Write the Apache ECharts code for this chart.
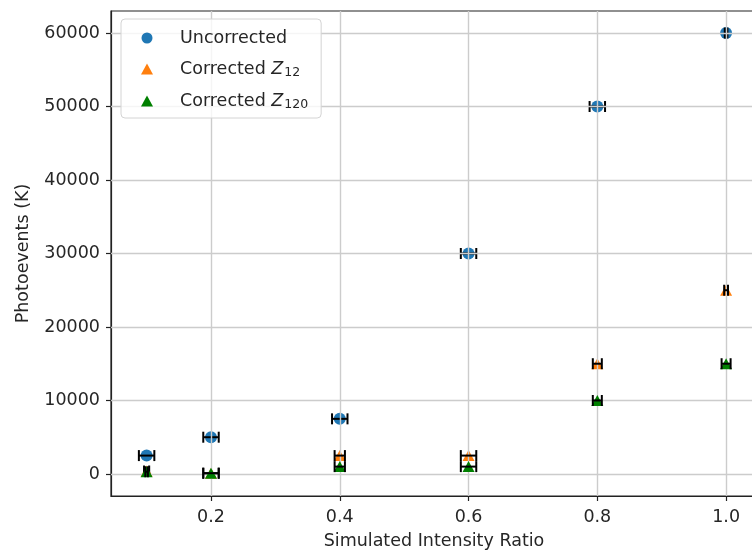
<!DOCTYPE html>
<html>
<head>
<meta charset="utf-8">
<script src="https://cdn.jsdelivr.net/npm/echarts@6/dist/echarts.min.js"></script>
<style>
  html, body { margin: 0; padding: 0; background: #ffffff; }
  #chart { width: 752px; height: 554px; }
</style>
</head>
<body>
<div id="chart"></div>
<script>
// Simulated intensity ratios (x) shared by all series
const ratios = [0.1, 0.2, 0.4, 0.6, 0.8, 1.0];

// Photoevent counts per series
const uncorrected = [2500, 5000, 7500, 30000, 50000, 60000];
const correctedZ12 = [400, 100, 2500, 2500, 15000, 25000];
const correctedZ120 = [300, 100, 1000, 1000, 10000, 15000];

// Horizontal error half-widths (in ratio units)
const uncorrectedXErr = [0.012, 0.012, 0.012, 0.012, 0.012, 0.002];
const correctedZ12XErr = [0.004, 0.012, 0.008, 0.012, 0.007, 0.003];
const correctedZ120XErr = [0.002, 0.012, 0.008, 0.012, 0.007, 0.007];

// Tick positions
const xTicks = [0.2, 0.4, 0.6, 0.8, 1.0];
const yTicks = [0, 10000, 20000, 30000, 40000, 50000, 60000];

const FONT = 'DejaVu Sans';
const TEXT = '#262626';
const FS = 17.5;

function points(xs, ys) {
  return xs.map((x, i) => [x, ys[i]]);
}
function errPoints(xs, ys, es) {
  return xs.map((x, i) => [x, ys[i], es[i]]);
}

// Draws |--| error bars around each point
function renderXErr(params, api) {
  const x = api.value(0), y = api.value(1), e = api.value(2);
  const a = api.coord([x - e, y]);
  const b = api.coord([x + e, y]);
  const cap = 5.5;
  const style = { stroke: '#000000', lineWidth: 2 };
  return {
    type: 'group',
    children: [
      { type: 'line', shape: { x1: a[0], y1: a[1], x2: b[0], y2: b[1] }, style },
      { type: 'line', shape: { x1: a[0], y1: a[1] - cap, x2: a[0], y2: a[1] + cap }, style },
      { type: 'line', shape: { x1: b[0], y1: b[1] - cap, x2: b[0], y2: b[1] + cap }, style }
    ]
  };
}

const series = [
  {
    // grid lines at the tick positions
    name: 'grid',
    type: 'scatter',
    data: [],
    z: 0,
    silent: true,
    markLine: {
      silent: true,
      symbol: 'none',
      animation: false,
      label: { show: false },
      lineStyle: { color: '#cccccc', width: 1.4, type: 'solid' },
      data: xTicks.map(v => ({ xAxis: v })).concat(yTicks.map(v => ({ yAxis: v })))
    }
  },
  {
    name: 'Uncorrected', type: 'scatter', z: 2,
    symbol: 'circle', symbolSize: 12,
    itemStyle: { color: '#1f77b4', opacity: 1 },
    data: points(ratios, uncorrected)
  },
  {
    name: 'Uncorrected xerr', type: 'custom', z: 3,
    renderItem: renderXErr,
    data: errPoints(ratios, uncorrected, uncorrectedXErr)
  },
  {
    name: 'Corrected Z12', type: 'scatter', z: 4,
    symbol: 'triangle', symbolSize: [12, 11],
    itemStyle: { color: '#ff7f0e', opacity: 1 },
    data: points(ratios, correctedZ12)
  },
  {
    name: 'Corrected Z12 xerr', type: 'custom', z: 5,
    renderItem: renderXErr,
    data: errPoints(ratios, correctedZ12, correctedZ12XErr)
  },
  {
    name: 'Corrected Z120', type: 'scatter', z: 6,
    symbol: 'triangle', symbolSize: [12, 11],
    itemStyle: { color: '#008000', opacity: 1 },
    data: points(ratios, correctedZ120)
  },
  {
    name: 'Corrected Z120 xerr', type: 'custom', z: 7,
    renderItem: renderXErr,
    data: errPoints(ratios, correctedZ120, correctedZ120XErr)
  }
];

const chart = echarts.init(document.getElementById('chart'), null, { renderer: 'canvas' });

chart.setOption({
  animation: false,
  backgroundColor: '#ffffff',
  textStyle: { fontFamily: FONT },
  grid: {
    left: 111, top: 11, width: 646, height: 485,
    show: true, borderColor: '#222222', borderWidth: 1.2,
    containLabel: false,
    outerBoundsMode: 'none'
  },
  legend: {
    data: ['Uncorrected', 'Corrected Z12', 'Corrected Z120'],
    orient: 'vertical',
    left: 121, top: 19,
    z: 50,
    padding: [10, 13, 7, 20],
    itemWidth: 12, itemHeight: 11,
    itemGap: 11,
    backgroundColor: 'rgba(255,255,255,0.8)',
    borderColor: '#d4d4d4', borderWidth: 1, borderRadius: 4,
    formatter: function (name) {
      if (name === 'Uncorrected') return '{n|Uncorrected}';
      const sub = name.replace('Corrected Z', '');
      return '{n|Corrected }{z|Z}{s|' + sub + '}';
    },
    textStyle: {
      fontFamily: FONT, fontSize: FS, color: TEXT,
      rich: {
        n: { fontFamily: FONT, fontSize: FS, color: TEXT, lineHeight: 20, padding: [0, 0, 0, 22] },
        z: { fontFamily: FONT, fontSize: FS, color: TEXT, fontStyle: 'italic', lineHeight: 20 },
        s: { fontFamily: FONT, fontSize: 12.5, color: TEXT, lineHeight: 20, verticalAlign: 'bottom', padding: [8, 0, 0, 1] }
      }
    }
  },
  xAxis: {
    type: 'value',
    min: 0.0447, max: 1.048,
    name: 'Simulated Intensity Ratio',
    nameLocation: 'middle',
    nameGap: 36,
    nameTextStyle: { fontFamily: FONT, fontSize: FS, color: TEXT },
    axisLine: { show: true, onZero: false, lineStyle: { color: '#222222', width: 1.2 } },
    axisTick: { show: true, length: 5, customValues: xTicks, lineStyle: { color: '#222222', width: 1.2 } },
    axisLabel: {
      show: true, customValues: xTicks, margin: 12,
      fontFamily: FONT, fontSize: FS, color: TEXT,
      formatter: v => v.toFixed(1)
    },
    splitLine: { show: false }
  },
  yAxis: {
    type: 'value',
    min: -3000, max: 63000,
    name: 'Photoevents (K)',
    nameLocation: 'middle',
    nameGap: 79,
    nameRotate: 90,
    nameTextStyle: { fontFamily: FONT, fontSize: FS, color: TEXT },
    axisLine: { show: true, onZero: false, lineStyle: { color: '#222222', width: 1.2 } },
    axisTick: { show: true, length: 5, customValues: yTicks, lineStyle: { color: '#222222', width: 1.2 } },
    axisLabel: {
      show: true, customValues: yTicks, margin: 11,
      fontFamily: FONT, fontSize: FS, color: TEXT,
      formatter: v => String(v)
    },
    splitLine: { show: false }
  },
  series: series
});
</script>
</body>
</html>
